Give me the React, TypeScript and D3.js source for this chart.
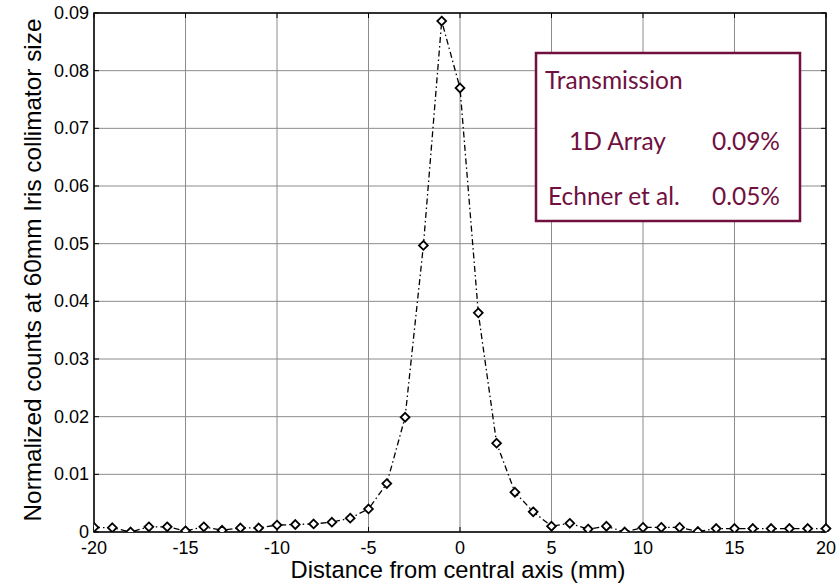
import React, { useEffect, useRef } from 'react';
import * as d3 from 'd3';

const distance = [-20, -19, -18, -17, -16, -15, -14, -13, -12, -11, -10, -9, -8, -7, -6, -5, -4, -3, -2, -1, 0, 1, 2, 3, 4, 5, 6, 7, 8, 9, 10, 11, 12, 13, 14, 15, 16, 17, 18, 19, 20];
const counts = [0.0008, 0.00075, 0.0, 0.0009, 0.0009, 0.0002, 0.0009, 0.0003, 0.0007, 0.0007, 0.0012, 0.0013, 0.0014, 0.0017, 0.0024, 0.004, 0.0084, 0.0199, 0.0497, 0.0886, 0.077, 0.038, 0.0154, 0.0069, 0.0035, 0.001, 0.0015, 0.0005, 0.001, 0.0, 0.0008, 0.0008, 0.0008, 0.0001, 0.0006, 0.0006, 0.0006, 0.0006, 0.0006, 0.0006, 0.0006];
const xTicks = [-20, -15, -10, -5, 0, 5, 10, 15, 20];
const yTicks = [0, 0.01, 0.02, 0.03, 0.04, 0.05, 0.06, 0.07, 0.08, 0.09];
const legendRows = [
  { label: '1D Array', value: '0.09%' },
  { label: 'Echner et al.', value: '0.05%' },
];

const Chart = () => {
  const ref = useRef<SVGSVGElement>(null);

  useEffect(() => {
    const svg = d3.select(ref.current);
    svg.selectAll('*').remove();

    const left = 94, right = 826, top = 13, bottom = 532;
    const x = d3.scaleLinear().domain([-20, 20]).range([left, right]);
    const y = d3.scaleLinear().domain([0, 0.09]).range([bottom, top]);
    const font = 'Arial, "Liberation Sans", sans-serif';

    // shrink/grow a label's font so it spans the wanted width
    const fit = (sel: any, size: number, width: number) => {
      const w = sel.node().getComputedTextLength();
      if (w > 0) sel.attr('font-size', (size * width) / w);
    };

    svg.append('clipPath').attr('id', 'plotClip')
      .append('rect').attr('x', left).attr('y', top - 6).attr('width', right - left + 6).attr('height', bottom - top + 6);

    // grid
    svg.append('g').selectAll('line').data(xTicks).enter().append('line')
      .attr('x1', d => x(d)).attr('x2', d => x(d)).attr('y1', top).attr('y2', bottom)
      .attr('stroke', '#8c8c8c').attr('stroke-width', 1);
    svg.append('g').selectAll('line').data(yTicks).enter().append('line')
      .attr('x1', left).attr('x2', right).attr('y1', d => y(d)).attr('y2', d => y(d))
      .attr('stroke', '#8c8c8c').attr('stroke-width', 1);

    // inward ticks
    const tl = 5;
    const ticks = svg.append('g').attr('stroke', '#000').attr('stroke-width', 1);
    xTicks.forEach(d => {
      ticks.append('line').attr('x1', x(d)).attr('x2', x(d)).attr('y1', bottom).attr('y2', bottom - tl);
      ticks.append('line').attr('x1', x(d)).attr('x2', x(d)).attr('y1', top).attr('y2', top + tl);
    });
    yTicks.forEach(d => {
      ticks.append('line').attr('x1', left).attr('x2', left + tl).attr('y1', y(d)).attr('y2', y(d));
      ticks.append('line').attr('x1', right).attr('x2', right - tl).attr('y1', y(d)).attr('y2', y(d));
    });

    // box
    svg.append('rect').attr('x', left).attr('y', top).attr('width', right - left).attr('height', bottom - top)
      .attr('fill', 'none').attr('stroke', '#000').attr('stroke-width', 1.5);

    // tick labels
    svg.append('g').selectAll('text').data(xTicks).enter().append('text')
      .attr('x', d => x(d)).attr('y', bottom + 22)
      .attr('text-anchor', 'middle').attr('font-family', font).attr('font-size', 18)
      .text(d => String(d));
    svg.append('g').selectAll('text').data(yTicks).enter().append('text')
      .attr('x', left - 5).attr('y', d => y(d) + 6)
      .attr('text-anchor', 'end').attr('font-family', font).attr('font-size', 18)
      .text(d => (d === 0 ? '0' : d.toFixed(2)));

    // axis labels
    const xl = svg.append('text').attr('x', 458).attr('y', 578)
      .attr('text-anchor', 'middle').attr('font-family', font).attr('font-size', 22)
      .text('Distance from central axis (mm)');
    fit(xl, 22, 335);
    const yl = svg.append('text').attr('transform', `translate(41,${270}) rotate(-90)`)
      .attr('text-anchor', 'middle').attr('font-family', font).attr('font-size', 21)
      .text('Normalized counts at 60mm Iris collimator size');
    fit(yl, 21, 503);

    // series
    const pts = distance.map((d, i) => [d, counts[i]] as [number, number]);
    const series = svg.append('g').attr('clip-path', 'url(#plotClip)');
    series.append('path')
      .attr('d', d3.line<[number, number]>().x(d => x(d[0])).y(d => y(d[1]))(pts))
      .attr('fill', 'none').attr('stroke', '#000').attr('stroke-width', 1.3)
      .attr('stroke-dasharray', '6 3 1.5 3');
    const r = 4.4;
    series.selectAll('path.m').data(pts).enter().append('path')
      .attr('class', 'm')
      .attr('d', d => `M${x(d[0])},${y(d[1]) - r} L${x(d[0]) + r},${y(d[1])} L${x(d[0])},${y(d[1]) + r} L${x(d[0]) - r},${y(d[1])} Z`)
      .attr('fill', '#fff').attr('stroke', '#000').attr('stroke-width', 1.8);

    // legend box
    const maroon = '#70103f';
    const lf = 'Lato, "Open Sans", sans-serif';
    const ls = 24.5;
    const lg = svg.append('g');
    lg.append('rect').attr('x', 536).attr('y', 53).attr('width', 264).attr('height', 168)
      .attr('fill', '#fff').attr('stroke', maroon).attr('stroke-width', 2.5);
    lg.append('text').attr('x', 545).attr('y', 89).attr('fill', maroon)
      .attr('font-family', lf).attr('font-size', ls).text('Transmission');
    legendRows.forEach((row, i) => {
      const by = 150 + i * 55;
      lg.append('text').attr('x', i === 0 ? 569 : 548).attr('y', by).attr('fill', maroon)
        .attr('font-family', lf).attr('font-size', ls).text(row.label);
      lg.append('text').attr('x', 780).attr('y', by).attr('text-anchor', 'end').attr('fill', maroon)
        .attr('font-family', lf).attr('font-size', ls).text(row.value);
    });
  }, []);

  return <svg ref={ref} width={839} height={584} style={{ display: 'block' }} />;
};

export default function App() {
  return (
    <div style={{ position: 'absolute', left: 0, top: 0, background: '#fff' }}>
      <Chart />
    </div>
  );
}
